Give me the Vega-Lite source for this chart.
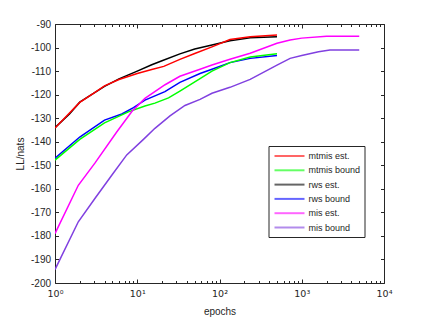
{
  "$schema": "https://vega.github.io/schema/vega-lite/v6.json",
  "width": 329,
  "height": 259,
  "autosize": {"type": "none"},
  "padding": {"left": 55, "top": 24, "right": 40, "bottom": 35},
  "background": "white",
  "config": {
    "font": "Liberation Sans",
    "view": {"stroke": "#262626", "strokeWidth": 1},
    "axis": {
      "labelFont": "Liberation Sans",
      "titleFont": "Liberation Sans",
      "labelFontSize": 10,
      "titleFontSize": 10,
      "titleFontWeight": "normal",
      "labelColor": "#262626",
      "titleColor": "#262626",
      "domain": false,
      "tickColor": "#262626",
      "tickWidth": 1,
      "grid": false,
      "zindex": 2
    },
    "legend": {
      "labelFont": "Liberation Sans",
      "labelFontSize": 9,
      "labelColor": "#262626"
    }
  },
  "data": {
    "values": [
      {"s": "rws est.", "x": 1, "y": -134},
      {"s": "rws est.", "x": 1.5, "y": -128.2},
      {"s": "rws est.", "x": 2, "y": -123.2},
      {"s": "rws est.", "x": 3, "y": -119.3},
      {"s": "rws est.", "x": 4, "y": -116.5},
      {"s": "rws est.", "x": 6, "y": -113.3},
      {"s": "rws est.", "x": 10, "y": -110},
      {"s": "rws est.", "x": 15, "y": -107.3},
      {"s": "rws est.", "x": 20, "y": -105.6},
      {"s": "rws est.", "x": 33, "y": -102.7},
      {"s": "rws est.", "x": 50, "y": -100.6},
      {"s": "rws est.", "x": 81, "y": -98.9},
      {"s": "rws est.", "x": 134, "y": -97.1},
      {"s": "rws est.", "x": 236, "y": -95.8},
      {"s": "rws est.", "x": 500, "y": -95.4},
      {"s": "mtmis est.", "x": 1, "y": -134.2},
      {"s": "mtmis est.", "x": 2, "y": -123.3},
      {"s": "mtmis est.", "x": 3, "y": -119.2},
      {"s": "mtmis est.", "x": 4, "y": -116.3},
      {"s": "mtmis est.", "x": 6, "y": -113.6},
      {"s": "mtmis est.", "x": 10, "y": -111},
      {"s": "mtmis est.", "x": 15, "y": -109.3},
      {"s": "mtmis est.", "x": 21, "y": -108},
      {"s": "mtmis est.", "x": 33, "y": -105},
      {"s": "mtmis est.", "x": 50, "y": -102.5},
      {"s": "mtmis est.", "x": 81, "y": -99.7},
      {"s": "mtmis est.", "x": 134, "y": -96.6},
      {"s": "mtmis est.", "x": 236, "y": -95.4},
      {"s": "mtmis est.", "x": 500, "y": -94.7},
      {"s": "rws bound", "x": 1, "y": -147},
      {"s": "rws bound", "x": 2, "y": -138},
      {"s": "rws bound", "x": 4, "y": -130.8},
      {"s": "rws bound", "x": 6.5, "y": -128.2},
      {"s": "rws bound", "x": 9, "y": -125.5},
      {"s": "rws bound", "x": 12.4, "y": -122.3},
      {"s": "rws bound", "x": 21.7, "y": -118.7},
      {"s": "rws bound", "x": 33, "y": -114.8},
      {"s": "rws bound", "x": 58, "y": -111},
      {"s": "rws bound", "x": 81, "y": -109.2},
      {"s": "rws bound", "x": 134, "y": -106.4},
      {"s": "rws bound", "x": 236, "y": -104.6},
      {"s": "rws bound", "x": 500, "y": -103.4},
      {"s": "mtmis bound", "x": 1, "y": -147.8},
      {"s": "mtmis bound", "x": 2, "y": -139},
      {"s": "mtmis bound", "x": 4, "y": -132},
      {"s": "mtmis bound", "x": 7.8, "y": -127.3},
      {"s": "mtmis bound", "x": 12.4, "y": -124.8},
      {"s": "mtmis bound", "x": 16.4, "y": -123.6},
      {"s": "mtmis bound", "x": 24, "y": -121.4},
      {"s": "mtmis bound", "x": 33, "y": -118.5},
      {"s": "mtmis bound", "x": 58, "y": -113.2},
      {"s": "mtmis bound", "x": 81, "y": -110},
      {"s": "mtmis bound", "x": 134, "y": -106.4},
      {"s": "mtmis bound", "x": 236, "y": -104},
      {"s": "mtmis bound", "x": 500, "y": -102.6},
      {"s": "mis est.", "x": 1, "y": -179},
      {"s": "mis est.", "x": 1.92, "y": -158.5},
      {"s": "mis est.", "x": 3.07, "y": -149},
      {"s": "mis est.", "x": 5.6, "y": -136},
      {"s": "mis est.", "x": 8.6, "y": -127.2},
      {"s": "mis est.", "x": 12.4, "y": -121.6},
      {"s": "mis est.", "x": 21.8, "y": -115.8},
      {"s": "mis est.", "x": 33, "y": -112.2},
      {"s": "mis est.", "x": 58, "y": -109.2},
      {"s": "mis est.", "x": 81, "y": -107.4},
      {"s": "mis est.", "x": 134, "y": -105},
      {"s": "mis est.", "x": 236, "y": -102.4},
      {"s": "mis est.", "x": 500, "y": -98.2},
      {"s": "mis est.", "x": 722, "y": -96.8},
      {"s": "mis est.", "x": 1000, "y": -96},
      {"s": "mis est.", "x": 2000, "y": -95.2},
      {"s": "mis est.", "x": 5000, "y": -95.2},
      {"s": "mis bound", "x": 1, "y": -194.3},
      {"s": "mis bound", "x": 1.92, "y": -174},
      {"s": "mis bound", "x": 3.07, "y": -164},
      {"s": "mis bound", "x": 5, "y": -153.8},
      {"s": "mis bound", "x": 7.45, "y": -145.6},
      {"s": "mis bound", "x": 11.9, "y": -139},
      {"s": "mis bound", "x": 16.4, "y": -134.3},
      {"s": "mis bound", "x": 25, "y": -129},
      {"s": "mis bound", "x": 38, "y": -124.6},
      {"s": "mis bound", "x": 58, "y": -122},
      {"s": "mis bound", "x": 81, "y": -119.4},
      {"s": "mis bound", "x": 134, "y": -116.9},
      {"s": "mis bound", "x": 236, "y": -113.5},
      {"s": "mis bound", "x": 500, "y": -107.5},
      {"s": "mis bound", "x": 722, "y": -104.6},
      {"s": "mis bound", "x": 1000, "y": -103.4},
      {"s": "mis bound", "x": 1600, "y": -101.8},
      {"s": "mis bound", "x": 2200, "y": -101},
      {"s": "mis bound", "x": 5000, "y": -101}
    ]
  },
  "layer": [
    {
      "mark": {"type": "line", "strokeWidth": 1.5, "clip": true},
      "encoding": {
        "x": {
          "field": "x", "type": "quantitative",
          "scale": {"type": "log", "domain": [1, 10000], "nice": false},
          "axis": {
            "orient": "bottom",
            "title": "epochs",
            "titleX": 164.5, "titleY": 31, "titleBaseline": "alphabetic",
            "values": [1,2,3,4,5,6,7,8,9,10,20,30,40,50,60,70,80,90,100,200,300,400,500,600,700,800,900,1000,2000,3000,4000,5000,6000,7000,8000,9000,10000],
            "tickSize": {"condition": {"test": "indexof([1,10,100,1000,10000], datum.value) >= 0", "value": -4}, "value": -2.5},
            "labelPadding": 9,
            "labelFont": "DejaVu Sans",
            "labelFontSize": 9.5,
            "labelExpr": "datum.value == 1 ? '10⁰' : datum.value == 10 ? '10¹' : datum.value == 100 ? '10²' : datum.value == 1000 ? '10³' : datum.value == 10000 ? '10⁴' : ''",
            "labelFlush": false,
            "labelOverlap": false
          }
        },
        "y": {
          "field": "y", "type": "quantitative",
          "scale": {"domain": [-200, -90], "nice": false, "zero": false},
          "axis": {
            "orient": "left",
            "title": "LL/nats",
            "titleX": -32, "titleY": 129.5, "titleAngle": -90, "titleBaseline": "alphabetic", "titleAlign": "center",
            "values": [-200,-190,-180,-170,-160,-150,-140,-130,-120,-110,-100,-90],
            "tickSize": -3.5,
            "labelPadding": 8,
            "labelExpr": "'' + datum.value",
            "labelFlush": false,
            "labelOverlap": false
          }
        },
        "color": {
          "field": "s", "type": "nominal",
          "scale": {
            "domain": ["mtmis est.", "mtmis bound", "rws est.", "rws bound", "mis est.", "mis bound"],
            "range": ["#ff0000", "#00ff00", "#000000", "#0000ff", "#ff00ff", "#8040e0"]
          },
          "legend": {
            "title": null,
            "orient": "none",
            "legendX": 213.5,
            "legendY": 122,
            "strokeColor": "#262626",
            "fillColor": "white",
            "padding": 4,
            "symbolType": "M-3,0H3",
            "symbolSize": 100,
            "symbolOffset": 11,
            "symbolStrokeWidth": 2,
            "symbolOpacity": 0.6,
            "rowPadding": 3.3,
            "labelOffset": 13
          }
        }
      }
    },
    {
      "mark": {"type": "line", "opacity": 0},
      "encoding": {
        "x": {
          "field": "x", "type": "quantitative",
          "axis": {
            "orient": "top", "title": null, "labels": false,
            "values": [1,2,3,4,5,6,7,8,9,10,20,30,40,50,60,70,80,90,100,200,300,400,500,600,700,800,900,1000,2000,3000,4000,5000,6000,7000,8000,9000,10000],
            "tickSize": {"condition": {"test": "indexof([1,10,100,1000,10000], datum.value) >= 0", "value": -4}, "value": -2.5}
          }
        },
        "y": {
          "field": "y", "type": "quantitative",
          "axis": {
            "orient": "right", "title": null, "labels": false,
            "values": [-200,-190,-180,-170,-160,-150,-140,-130,-120,-110,-100,-90],
            "tickSize": -3.5
          }
        },
        "detail": {"field": "s", "type": "nominal"}
      }
    }
  ],
  "resolve": {"axis": {"x": "independent", "y": "independent"}}
}
